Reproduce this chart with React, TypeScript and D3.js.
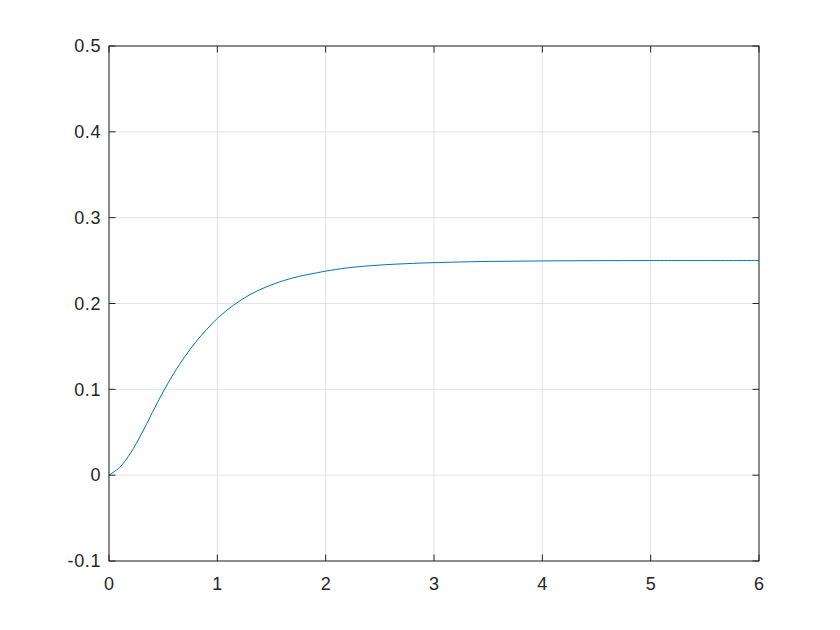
import React from "react";
import * as d3 from "d3";

const tValues = [0, 0.1, 0.2, 0.3, 0.4, 0.5, 0.6, 0.7, 0.8, 0.9, 1.0, 1.15, 1.3, 1.45, 1.6, 1.75, 1.9, 2.0, 2.2, 2.5, 2.8, 3.0, 3.5, 4.0, 4.5, 5.0, 6.0];
const yValues = [0, 0.0092, 0.026, 0.048, 0.073, 0.097, 0.119, 0.138, 0.155, 0.1695, 0.1826, 0.198, 0.2103, 0.2192, 0.2262, 0.2315, 0.2353, 0.2377, 0.2415, 0.2448, 0.2467, 0.2476, 0.249, 0.2496, 0.2499, 0.25, 0.25];
const xTicks = [0, 1, 2, 3, 4, 5, 6];
const yTicks = [-0.1, 0, 0.1, 0.2, 0.3, 0.4, 0.5];
const yTickLabels = ["-0.1", "0", "0.1", "0.2", "0.3", "0.4", "0.5"];

export default function App() {
  const W = 840, H = 630;
  const L = 109, R = 759, T = 46, B = 561;
  const x = d3.scaleLinear().domain([0, 6]).range([L, R]);
  const y = d3.scaleLinear().domain([-0.1, 0.5]).range([B, T]);
  const pts: [number, number][] = tValues.map((t, i) => [t, yValues[i]]);
  const line = d3.line<[number, number]>().x(d => x(d[0])).y(d => y(d[1])).curve(d3.curveCatmullRom.alpha(0.5));
  const tick = 6.5;
  const axisColor = "#262626";
  const font = "'Liberation Sans', Arial, Helvetica, sans-serif";
  return (
    <svg width={W} height={H} style={{ position: "absolute", left: 0, top: 0, background: "#fff" }}>
      <rect x={0} y={0} width={W} height={H} fill="#fff" />
      {xTicks.map(t => (
        <line key={"gx" + t} x1={x(t)} x2={x(t)} y1={T} y2={B} stroke="#dcdcdc" strokeWidth={0.8} />
      ))}
      {yTicks.map(t => (
        <line key={"gy" + t} x1={L} x2={R} y1={y(t)} y2={y(t)} stroke="#dcdcdc" strokeWidth={0.8} />
      ))}
      <path d={line(pts) || ""} fill="none" stroke="#0072BD" strokeWidth={1} />
      <rect x={L} y={T} width={R - L} height={B - T} fill="none" stroke={axisColor} strokeWidth={1} />
      {xTicks.map(t => (
        <g key={"tx" + t}>
          <line x1={x(t)} x2={x(t)} y1={B} y2={B - tick} stroke={axisColor} />
          <line x1={x(t)} x2={x(t)} y1={T} y2={T + tick} stroke={axisColor} />
          <text x={x(t)} y={590} textAnchor="middle" fontSize={18} fontFamily={font} fill={axisColor}>{t}</text>
        </g>
      ))}
      {yTicks.map((t, i) => (
        <g key={"ty" + t}>
          <line x1={L} x2={L + tick} y1={y(t)} y2={y(t)} stroke={axisColor} />
          <line x1={R} x2={R - tick} y1={y(t)} y2={y(t)} stroke={axisColor} />
          <text x={101} y={y(t)} dy="0.35em" textAnchor="end" fontSize={18} letterSpacing={0.6} fontFamily={font} fill={axisColor}>{yTickLabels[i]}</text>
        </g>
      ))}
    </svg>
  );
}
